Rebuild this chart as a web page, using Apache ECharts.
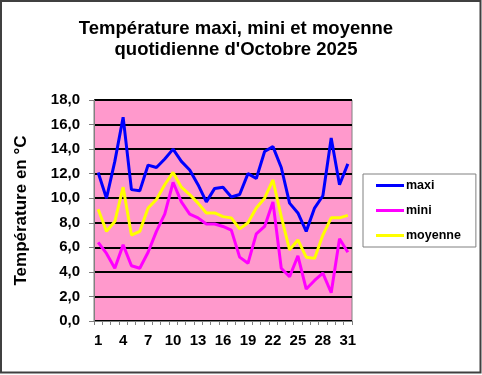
<!DOCTYPE html>
<html><head><meta charset="utf-8">
<script src="https://cdn.jsdelivr.net/npm/echarts@6/dist/echarts.min.js"></script>
<style>html,body{margin:0;padding:0;background:#fff}#c{width:482px;height:375px}</style>
</head><body><div id="c"></div>
<script>
const days = Array.from({length:31},(_,i)=>String(i+1));
const maxi = [12.1,10.0,13.0,16.6,10.7,10.6,12.7,12.5,13.2,14.0,13.0,12.3,11.1,9.7,10.8,10.9,10.1,10.3,12.0,11.6,13.8,14.2,12.5,9.6,8.8,7.3,9.2,10.2,14.9,11.1,12.8];
const mini = [6.4,5.5,4.3,6.2,4.5,4.3,5.6,7.3,8.7,11.3,9.7,8.7,8.4,7.9,7.9,7.7,7.4,5.2,4.7,7.1,7.7,9.7,4.3,3.6,5.3,2.6,3.3,3.9,2.3,6.7,5.6];
const moyenne = [9.1,7.3,8.1,10.9,7.0,7.3,9.2,9.9,11.1,12.1,10.9,10.3,9.6,8.8,8.8,8.5,8.4,7.5,8.0,9.2,10.0,11.5,8.5,5.8,6.6,5.2,5.1,7.0,8.4,8.4,8.6];
const yTicks = {min:0, max:18, interval:2};
const FONT = 'Liberation Sans, Arial, sans-serif';

const chart = echarts.init(document.getElementById('c'), null, {renderer:'canvas'});
const mk = (name, data, color) => ({
  name, type:'line', data, symbol:'none', smooth:false,
  lineStyle:{color, width:3}, itemStyle:{color}
});
chart.setOption({
  animation:false,
  backgroundColor:'#fff',
  title:{
    text:'Température maxi, mini et moyenne\nquotidienne d\'Octobre 2025',
    left:231, top:13, textAlign:'center',
    textStyle:{fontFamily:FONT, fontSize:18.5, fontWeight:'bold', color:'#000', lineHeight:21}
  },
  grid:{left:94, right:130, top:100, bottom:54, show:true, backgroundColor:'#FF99CC', borderColor:'#808080', borderWidth:1},
  legend:{
    orient:'vertical', left:363, top:174,
    data:['maxi','mini','moyenne'],
    icon:'rect', itemWidth:28, itemHeight:3, itemGap:10,
    padding:[4,15,4,13],
    borderColor:'#808080', borderWidth:1, backgroundColor:'#fff',
    textStyle:{fontFamily:FONT, fontSize:12.5, fontWeight:'bold', color:'#000', lineHeight:15, padding:[0,0,0,-3]}
  },
  xAxis:{
    type:'category', data:days, boundaryGap:true,
    axisLine:{lineStyle:{color:'#808080', width:1}},
    axisTick:{show:true, interval:0, length:4, lineStyle:{color:'#808080'}},
    axisLabel:{interval:2, margin:12, fontFamily:FONT, fontSize:15, fontWeight:'bold', color:'#000'},
    splitLine:{show:false}
  },
  yAxis:{
    type:'value', min:yTicks.min, max:yTicks.max, interval:yTicks.interval,
    name:'Température en °C', nameLocation:'middle', nameGap:64, nameRotate:90,
    nameTextStyle:{fontFamily:FONT, fontSize:17, fontWeight:'bold', color:'#000'},
    axisLine:{show:true, lineStyle:{color:'#808080', width:1}},
    axisTick:{show:true, length:5, lineStyle:{color:'#808080'}},
    axisLabel:{margin:14, fontFamily:FONT, fontSize:15, fontWeight:'bold', color:'#000',
      formatter:v=>v.toFixed(1).replace('.',',')},
    splitLine:{show:true, lineStyle:{color:'#000', width:2}}
  },
  series:[mk('maxi',maxi,'#0000FF'), mk('mini',mini,'#FF00FF'), mk('moyenne',moyenne,'#FFFF00')],
  graphic:[{type:'rect', shape:{x:1, y:1, width:479.5, height:371.5}, style:{fill:'none', stroke:'#404040', lineWidth:2}, silent:true}]
});
</script></body></html>
